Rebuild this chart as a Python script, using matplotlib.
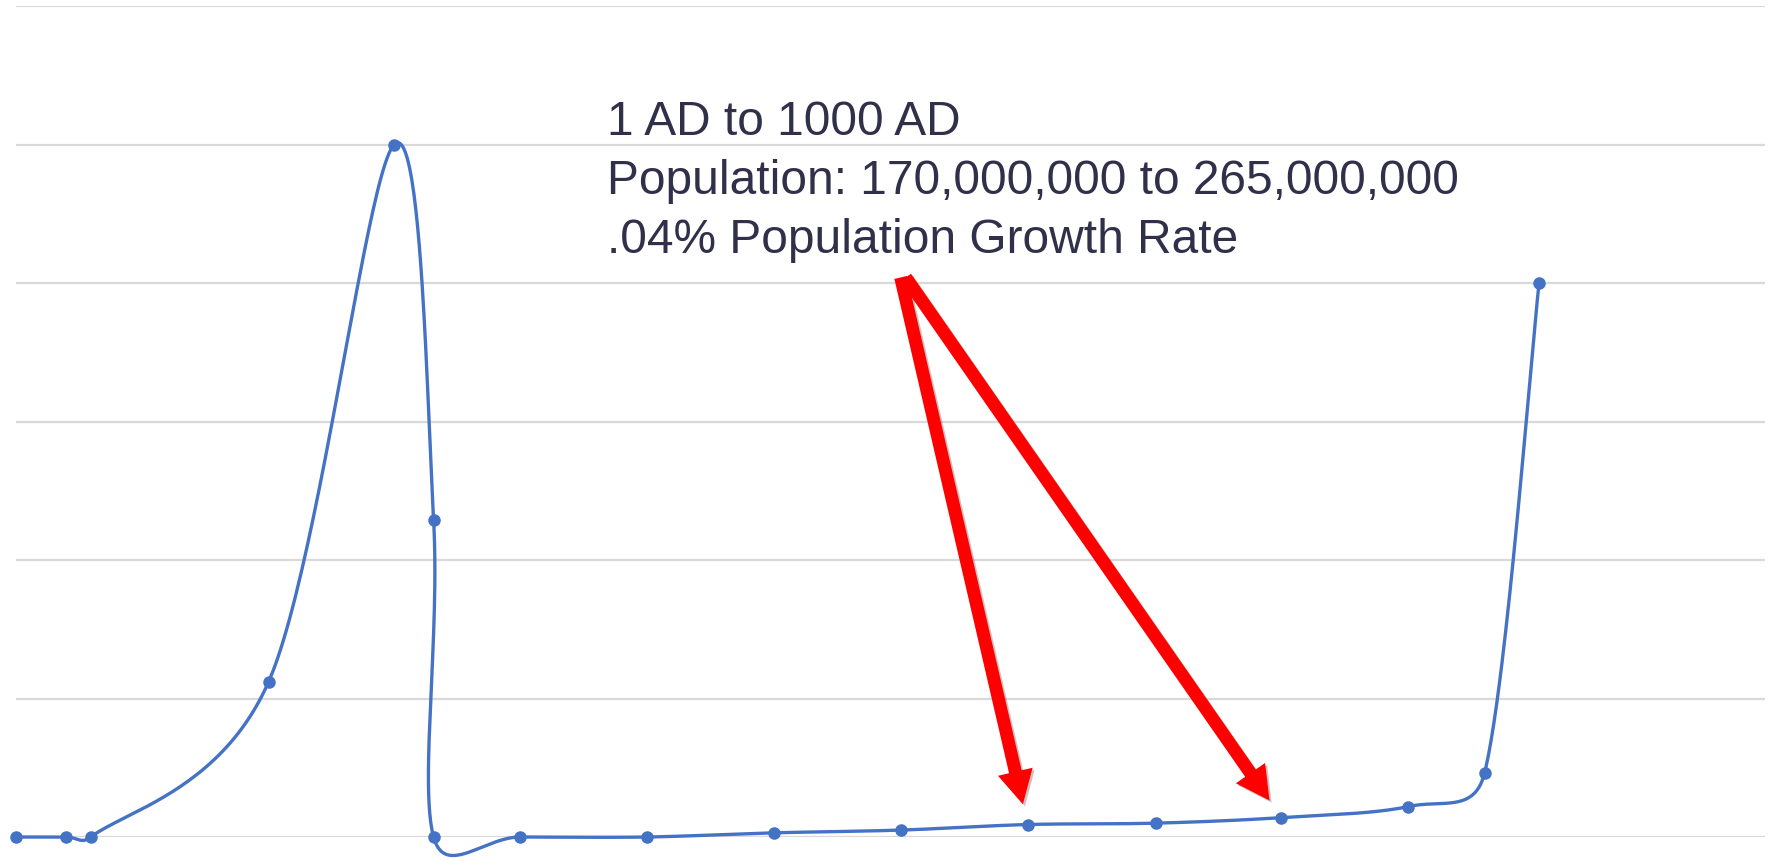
import numpy as np
import matplotlib
matplotlib.use("Agg")
import matplotlib.pyplot as plt
import matplotlib.patheffects as pe

# series values (x in chart units, y in grid units)
xs = [0, 0.39, 0.59, 1.99, 2.98, 3.29, 3.29, 3.97, 4.97, 5.97, 6.97, 7.97, 8.98, 9.97, 10.97, 11.57, 12.0]
ys = [0, 0, 0, 1.12, 5.0, 2.29, 0, 0, 0, 0.03, 0.05, 0.09, 0.10, 0.14, 0.22, 0.46, 4.0]

label_lines = ["1 AD to 1000 AD",
               "Population: 170,000,000 to 265,000,000",
               ".04% Population Growth Rate"]
arrow_targets = [11, 13]   # indices of the points the red arrows aim at
arrow_start = [(6.97, 4.04), (7.01, 4.04)]

line_color = "#4472C4"

fig = plt.figure(figsize=(17.8, 8.61), dpi=100)
ax = fig.add_axes([16 / 1780, 24 / 861, (1765 - 16) / 1780, (855 - 24) / 861])
ax.set_xlim(0, 13.78)
ax.set_ylim(0, 6)
ax.set_yticks(np.arange(0, 7, 1))
ax.grid(axis="y", color="#d9d9d9", lw=1.6)
ax.tick_params(left=False, bottom=False, labelleft=False, labelbottom=False)
for s in ax.spines.values():
    s.set_visible(False)
ax.set_axisbelow(True)

# smoothed line like Excel: bezier through the points, handles capped at half a segment
pts = ax.transData.transform(np.column_stack([xs, ys]))
P = np.vstack([pts[0], pts, pts[-1]])
f = 1 / 6


def handle(v, seg_len):
    n = np.hypot(*v)
    if n * f > seg_len / 2 and n > 0:
        return v / n * seg_len / 2
    return v * f


curve = []
t = np.linspace(0, 1, 50)[:, None]
for i in range(1, len(P) - 2):
    p0, p1, p2, p3 = P[i - 1], P[i], P[i + 1], P[i + 2]
    d12 = np.hypot(*(p2 - p1))
    b1 = p1 + handle(p2 - p0, d12)
    b2 = p2 - handle(p3 - p1, d12)
    seg = (1 - t) ** 3 * p1 + 3 * (1 - t) ** 2 * t * b1 + 3 * (1 - t) * t ** 2 * b2 + t ** 3 * p2
    curve.append(seg)
curve = ax.transData.inverted().transform(np.vstack(curve))
ax.plot(curve[:, 0], curve[:, 1], color=line_color, lw=2.4, clip_on=False, zorder=3)
ax.plot(xs, ys, "o", color=line_color, ms=8, clip_on=False, zorder=4)

ax.text(4.66, 5.32, "\n".join(label_lines), fontsize=34.5, family="Liberation Sans",
        color="#30304a", va="top", ha="left", linespacing=1.4)

for i, start in zip(arrow_targets, arrow_start):
    ax.annotate("", xy=(xs[i], ys[i]), xytext=start,
                arrowprops=dict(arrowstyle="simple,head_length=1.5,head_width=1.6,tail_width=0.58",
                                mutation_scale=16, color="#ff0000", lw=0,
                                shrinkA=0, shrinkB=15,
                                path_effects=[pe.SimplePatchShadow(offset=(1.5, -1.5), alpha=0.25),
                                              pe.Normal()]),
                zorder=5)

fig.savefig("out.png", dpi=100)
